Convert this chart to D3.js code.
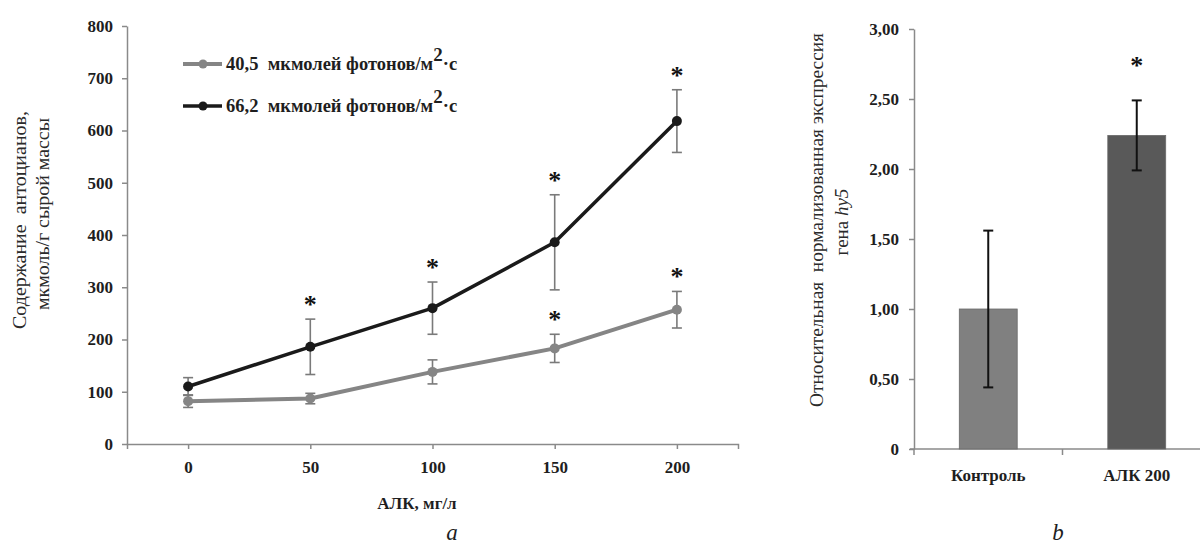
<!DOCTYPE html>
<html>
<head>
<meta charset="utf-8">
<script src="https://cdn.jsdelivr.net/npm/d3@7"></script>
<style>
  body { margin: 0; background: #fff; }
  svg text { font-family: "Liberation Serif", "Times New Roman", serif; }
  .tick text { font-size: 17px; font-weight: bold; fill: #1e1e1e; }
  .tick line, .domain { stroke: #8a8a8a; stroke-width: 1.5; }
</style>
</head>
<body>
<svg id="chart" width="1200" height="545"></svg>
<script>
// panel a: anthocyanin content vs ALA dose
var doses = ['0', '50', '100', '150', '200'];
var lowLight = [82, 87, 138, 183, 257];
var lowLightErr = [12, 10, 23, 27, 35];
var lowLightSig = [false, false, false, true, true];
var highLight = [110, 186, 260, 386, 618];
var highLightErr = [17, 53, 50, 91, 60];
var highLightSig = [false, true, true, true, true];
var yTicksA = [0, 100, 200, 300, 400, 500, 600, 700, 800];

// panel b: hy5 expression
var groups = ['Контроль', 'АЛК 200'];
var expr = [1.00, 2.24];
var exprErr = [0.56, 0.25];
var exprSig = [false, true];
var yTicksB = [0, 0.5, 1, 1.5, 2, 2.5, 3];

var svg = d3.select('#chart');

// ---------- panel a ----------
var xA = d3.scalePoint().domain(doses).range([127, 738]).padding(0.5);
var yA = d3.scaleLinear().domain([0, 800]).range([444, 26]);

svg.append('g')
  .attr('transform', 'translate(127,0)')
  .call(d3.axisLeft(yA).tickValues(yTicksA).tickSize(5).tickSizeOuter(0).tickPadding(9))
  .attr('font-family', null);

var axisX = svg.append('g')
  .attr('transform', 'translate(0,444)')
  .call(d3.axisBottom(xA).tickSize(5).tickSizeOuter(5).tickPadding(9))
  .attr('font-family', null);
axisX.selectAll('.tick text').attr('dy', '0.9em');

var seriesA = [
  { name: '40,5', vals: lowLight, err: lowLightErr, sig: lowLightSig, color: '#858585', width: 4, r: 5 },
  { name: '66,2', vals: highLight, err: highLightErr, sig: highLightSig, color: '#1a1a1a', width: 3.5, r: 5 }
];

var line = d3.line()
  .x(function(d, i) { return xA(doses[i]); })
  .y(function(d) { return yA(d); });

seriesA.forEach(function(s) {
  var g = svg.append('g');
  // error bars
  s.vals.forEach(function(v, i) {
    var x = xA(doses[i]);
    var eb = g.append('g').attr('stroke', '#7a7a7a').attr('stroke-width', 1.6);
    eb.append('line').attr('x1', x).attr('x2', x).attr('y1', yA(v - s.err[i])).attr('y2', yA(v + s.err[i]));
    eb.append('line').attr('x1', x - 5).attr('x2', x + 5).attr('y1', yA(v + s.err[i])).attr('y2', yA(v + s.err[i]));
    eb.append('line').attr('x1', x - 5).attr('x2', x + 5).attr('y1', yA(v - s.err[i])).attr('y2', yA(v - s.err[i]));
  });
  g.append('path')
    .datum(s.vals)
    .attr('d', line)
    .attr('fill', 'none')
    .attr('stroke', s.color)
    .attr('stroke-width', s.width)
    .attr('stroke-linejoin', 'round');
  g.selectAll('circle')
    .data(s.vals)
    .enter()
    .append('circle')
    .attr('cx', function(d, i) { return xA(doses[i]); })
    .attr('cy', function(d) { return yA(d); })
    .attr('r', s.r)
    .attr('fill', s.color);
  // significance stars
  var starIdx = d3.range(s.vals.length).filter(function(i) { return s.sig[i]; });
  g.selectAll('text.star')
    .data(starIdx)
    .enter()
    .append('text')
    .attr('class', 'star')
    .attr('x', function(i) { return xA(doses[i]); })
    .attr('y', function(i) { return yA(s.vals[i] + s.err[i]) - 6; })
    .attr('text-anchor', 'middle')
    .style('font-size', '26px')
    .style('font-weight', 'bold')
    .attr('fill', '#111')
    .text('*');
});

// legend
var legend = svg.append('g');
seriesA.forEach(function(s, i) {
  var ly = 64 + i * 42;
  legend.append('line').attr('x1', 183).attr('x2', 222).attr('y1', ly).attr('y2', ly)
    .attr('stroke', s.color).attr('stroke-width', s.width);
  legend.append('circle').attr('cx', 203).attr('cy', ly).attr('r', 4.5).attr('fill', s.color);
  var t = legend.append('text').attr('x', 226).attr('y', ly + 6)
    .style('font-size', '18.5px').style('font-weight', 'bold').attr('fill', '#1e1e1e')
    .attr('xml:space', 'preserve');
  t.append('tspan').text(s.name + '  мкмолей фотонов/м');
  t.append('tspan').attr('dy', -9).style('font-size', '19px').text('2');
  t.append('tspan').attr('dy', 9).text('·с');
});

// axis titles a
svg.append('text')
  .attr('transform', 'translate(26,220) rotate(-90)')
  .attr('text-anchor', 'middle')
  .style('font-size', '18px').attr('fill', '#2a2a2a')
  .attr('xml:space', 'preserve')
  .attr('textLength', 218).attr('lengthAdjust', 'spacingAndGlyphs')
  .text('Содержание  антоцианов,');
svg.append('text')
  .attr('transform', 'translate(49,214) rotate(-90)')
  .attr('text-anchor', 'middle')
  .style('font-size', '18px').attr('fill', '#2a2a2a')
  .attr('textLength', 192).attr('lengthAdjust', 'spacingAndGlyphs')
  .text('мкмоль/г сырой массы');
svg.append('text')
  .attr('x', 417).attr('y', 509)
  .attr('text-anchor', 'middle')
  .style('font-size', '17px').style('font-weight', 'bold').attr('fill', '#1e1e1e')
  .text('АЛК, мг/л');
svg.append('text')
  .attr('x', 452).attr('y', 540)
  .attr('text-anchor', 'middle')
  .style('font-size', '23px').style('font-style', 'italic').attr('fill', '#1e1e1e')
  .text('a');

// ---------- panel b ----------
var xB = d3.scaleBand().domain(groups).range([914, 1211]).paddingInner(0.61).paddingOuter(0.305);
var yB = d3.scaleLinear().domain([0, 3]).range([449, 29]);
var fmt = function(d) { return d === 0 ? '0' : d3.format('.2f')(d).replace('.', ','); };

svg.append('g')
  .attr('transform', 'translate(914,0)')
  .call(d3.axisLeft(yB).tickValues(yTicksB).tickFormat(fmt).tickSize(5).tickSizeOuter(0).tickPadding(10))
  .attr('font-family', null);

var axisXB = svg.append('g').attr('transform', 'translate(0,449)');
axisXB.append('line').attr('x1', 910).attr('x2', 1211).attr('y1', 0).attr('y2', 0)
  .attr('stroke', '#8a8a8a').attr('stroke-width', 1.5);
var step = xB.step();
[914, 914 + step].forEach(function(x) {
  axisXB.append('line').attr('x1', x).attr('x2', x).attr('y1', 0).attr('y2', 6)
    .attr('stroke', '#8a8a8a').attr('stroke-width', 1.5);
});
axisXB.selectAll('text.cat')
  .data(groups)
  .enter()
  .append('text')
  .attr('class', 'cat')
  .attr('x', function(d) { return xB(d) + xB.bandwidth() / 2; })
  .attr('y', 32)
  .attr('text-anchor', 'middle')
  .style('font-size', '17px').style('font-weight', 'bold').attr('fill', '#1e1e1e')
  .text(function(d) { return d; });

var barColors = ['#808080', '#595959'];
svg.selectAll('rect.bar')
  .data(expr)
  .enter()
  .append('rect')
  .attr('class', 'bar')
  .attr('x', function(d, i) { return xB(groups[i]); })
  .attr('y', function(d) { return yB(d); })
  .attr('width', xB.bandwidth())
  .attr('height', function(d) { return yB(0) - yB(d); })
  .attr('fill', function(d, i) { return barColors[i]; })
  .attr('stroke', '#6a6a6a')
  .attr('stroke-width', 0.8);

expr.forEach(function(v, i) {
  var x = xB(groups[i]) + xB.bandwidth() / 2;
  var eb = svg.append('g').attr('stroke', '#111').attr('stroke-width', 2);
  eb.append('line').attr('x1', x).attr('x2', x).attr('y1', yB(v - exprErr[i])).attr('y2', yB(v + exprErr[i]));
  eb.append('line').attr('x1', x - 5).attr('x2', x + 5).attr('y1', yB(v + exprErr[i])).attr('y2', yB(v + exprErr[i]));
  eb.append('line').attr('x1', x - 5).attr('x2', x + 5).attr('y1', yB(v - exprErr[i])).attr('y2', yB(v - exprErr[i]));
  if (exprSig[i]) {
    svg.append('text')
      .attr('x', x).attr('y', yB(v + exprErr[i]) - 26)
      .attr('text-anchor', 'middle')
      .style('font-size', '26px').style('font-weight', 'bold').attr('fill', '#111')
      .text('*');
  }
});

// axis titles b
svg.append('text')
  .attr('transform', 'translate(823,220) rotate(-90)')
  .attr('text-anchor', 'middle')
  .style('font-size', '18px').attr('fill', '#2a2a2a')
  .attr('xml:space', 'preserve')
  .attr('textLength', 374).attr('lengthAdjust', 'spacingAndGlyphs')
  .text('Относительная  нормализованная экспрессия');
var t2 = svg.append('text')
  .attr('transform', 'translate(848,222) rotate(-90)')
  .attr('text-anchor', 'middle')
  .style('font-size', '19px').attr('fill', '#2a2a2a');
t2.append('tspan').text('гена ');
t2.append('tspan').style('font-style', 'italic').text('hy5');
svg.append('text')
  .attr('x', 1058).attr('y', 540)
  .attr('text-anchor', 'middle')
  .style('font-size', '23px').style('font-style', 'italic').attr('fill', '#1e1e1e')
  .text('b');
</script>
</body>
</html>
